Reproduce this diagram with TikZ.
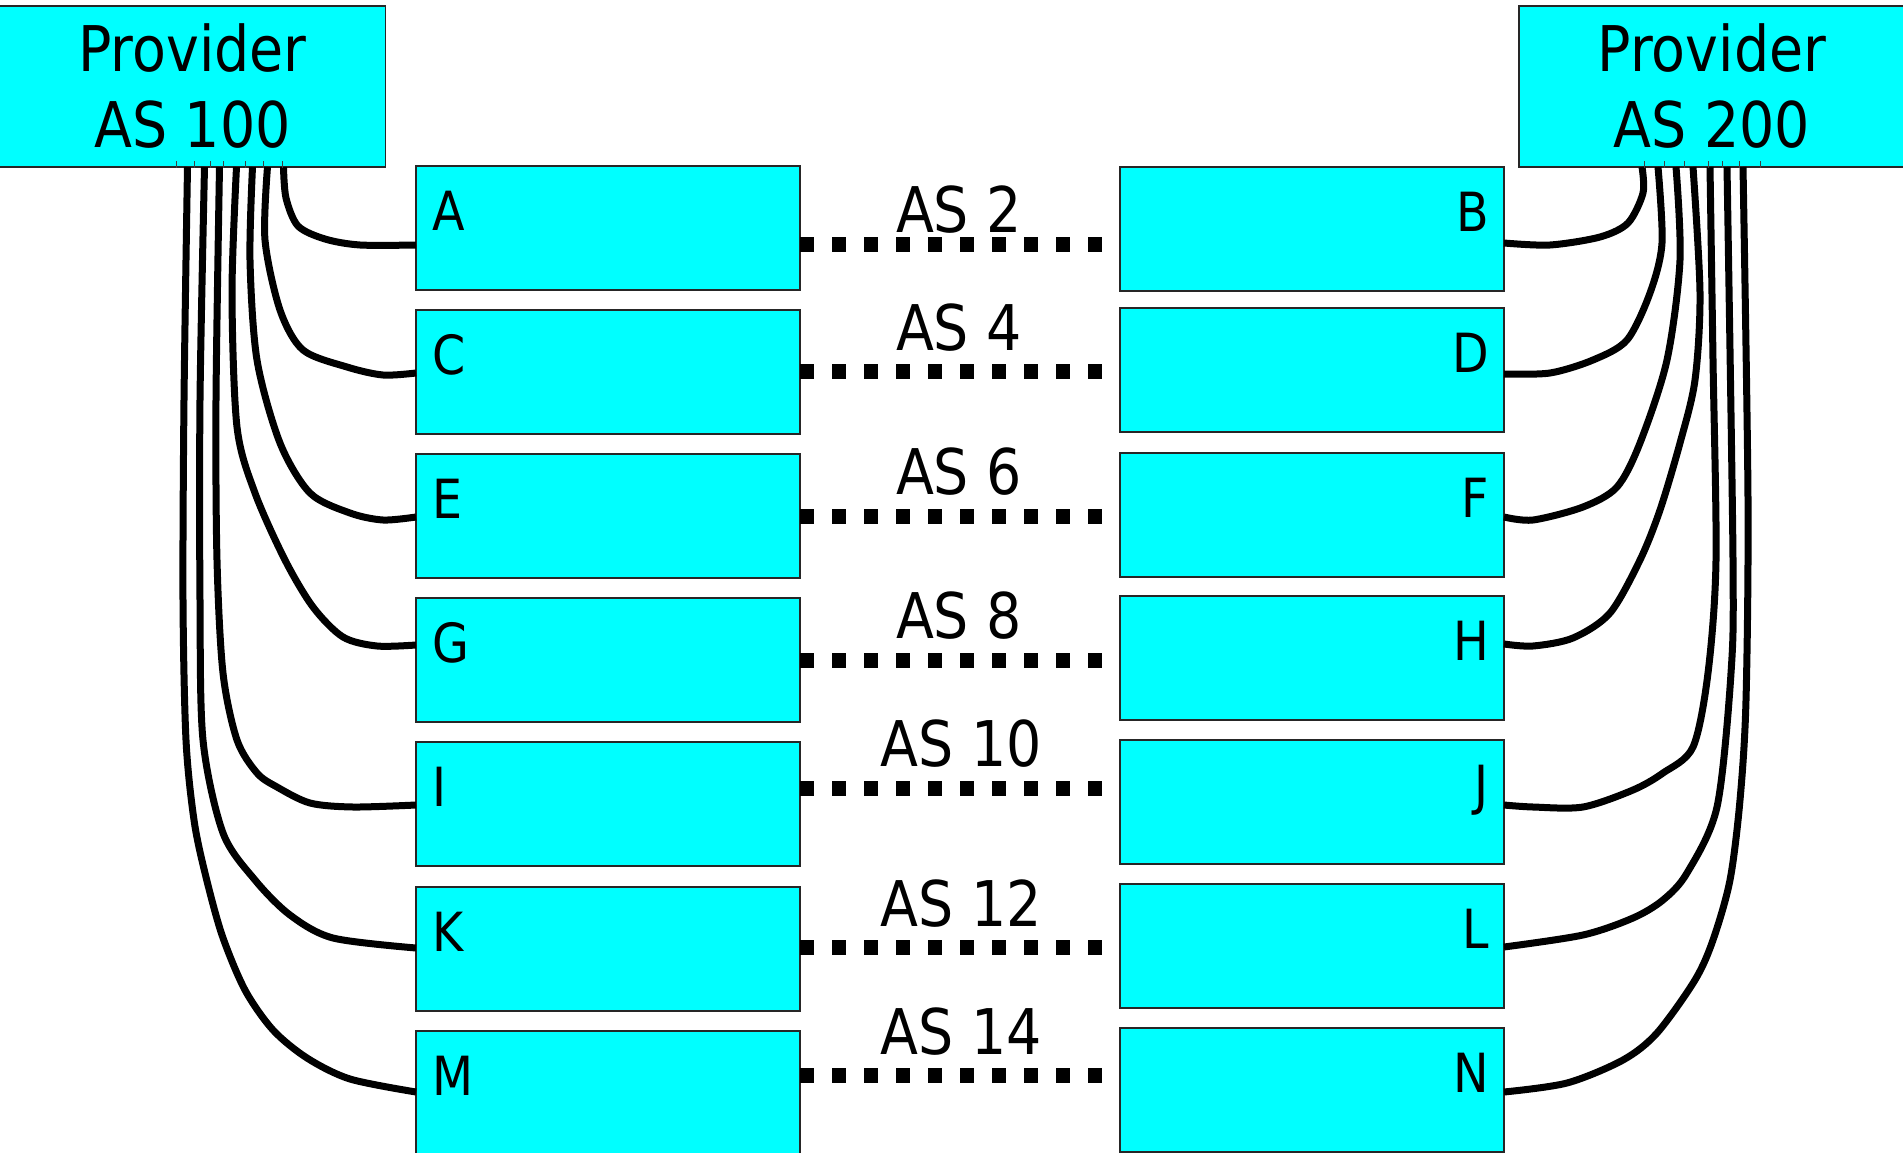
\documentclass[tikz,border=0pt]{standalone}
\usepackage{fontspec}
\setmainfont{DejaVu Sans}[FakeStretch=0.88]
\definecolor{aqua}{RGB}{0,255,255}
\begin{document}
\begin{tikzpicture}[x=1pt,y=-1pt,
  asbox/.style={draw=black!85, line width=1.8pt, fill=aqua, minimum width=384pt, minimum height=124pt, inner sep=0pt, outer sep=0pt},
  provbox/.style={draw=black!85, line width=1.8pt, fill=aqua, minimum width=386pt, minimum height=161pt, inner sep=0pt, outer sep=0pt, align=center, font=\fontsize{63}{76}\selectfont},
  letl/.style={anchor=base west, inner sep=0pt, font=\fontsize{54}{60}\selectfont},
  letr/.style={anchor=base east, inner sep=0pt, font=\fontsize{54}{60}\selectfont},
  aslabel/.style={anchor=base, inner sep=0pt, font=\fontsize{63}{70}\selectfont},
  wire/.style={line width=7pt, black, line join=round},
  dotline/.style={line width=15pt, black, dash pattern=on 13.5pt off 18.5pt},
  tick/.style={line width=0.8pt, black!75}]
\useasboundingbox (0,0) rectangle (1903,1153);

% provider boxes
\node[provbox] (P1) at (192.5,86.5) {Provider\\AS 100};
\node[provbox] (P2) at (1712,86.5) {Provider\\AS 200};

% customer boxes, left
\node[asbox] (A) at (608,228) {};
\node[asbox] (C) at (608,372) {};
\node[asbox] (E) at (608,516) {};
\node[asbox] (G) at (608,660) {};
\node[asbox] (I) at (608,804) {};
\node[asbox] (K) at (608,949) {};
\node[asbox] (M) at (608,1093) {};
% right
\node[asbox] (B) at (1312,229) {};
\node[asbox] (D) at (1312,370) {};
\node[asbox] (F) at (1312,515) {};
\node[asbox] (H) at (1312,658) {};
\node[asbox] (J) at (1312,802) {};
\node[asbox] (L) at (1312,946) {};
\node[asbox] (N) at (1312,1090) {};

% letters
\foreach \n in {A,C,E,G,I,K,M}{\node[letl] (t\n) at ([xshift=16pt,yshift=-2pt]\n.west) {\n};}
\foreach \n in {B,D,F,H,J,L,N}{\node[letr] (t\n) at ([xshift=-15pt,yshift=-2pt]\n.east) {\n};}

% AS labels
\node[aslabel] (l2) at (959,232) {AS 2};
\node[aslabel] (l4) at (959,350) {AS 4};
\node[aslabel] (l6) at (959,494) {AS 6};
\node[aslabel] (l8) at (959,638) {AS 8};
\node[aslabel] (l10) at (961,766) {AS 10};
\node[aslabel] (l12) at (961,926) {AS 12};
\node[aslabel] (l14) at (961,1054) {AS 14};

% dotted peerings
\coordinate (d1) at (0,244);
\coordinate (d2) at (0,371);
\coordinate (d3) at (0,516);
\coordinate (d4) at (0,660);
\coordinate (d5) at (0,788);
\coordinate (d6) at (0,947);
\coordinate (d7) at (0,1075);
\draw[dotline] (A.east |- d1) -- (B.west |- d1);
\draw[dotline] (C.east |- d2) -- (D.west |- d2);
\draw[dotline] (E.east |- d3) -- (F.west |- d3);
\draw[dotline] (G.east |- d4) -- (H.west |- d4);
\draw[dotline] (I.east |- d5) -- (J.west |- d5);
\draw[dotline] (K.east |- d6) -- (L.west |- d6);
\draw[dotline] (M.east |- d7) -- (N.west |- d7);

% left wires
\draw[wire] plot[smooth] coordinates {([xshift=284pt]P1.south west) (286,198) (298,226) (325,239) (360,245) ([yshift=-17pt]A.west)};
\draw[wire] plot[smooth] coordinates {([xshift=268pt]P1.south west) (265,240) (280,310) (303,350) (347,367) (383,375) ([yshift=-1pt]C.west)};
\draw[wire] plot[smooth] coordinates {([xshift=253pt]P1.south west) (250,260) (257,360) (280,443) (310,493) (350,513) (383,520) ([yshift=-1pt]E.west)};
\draw[wire] plot[smooth] coordinates {([xshift=237pt]P1.south west) (232,293) (237,427) (255,493) (285,560) (313,607) (343,637) (377,646) ([yshift=15pt]G.west)};
\draw[wire] plot[smooth] coordinates {([xshift=220pt]P1.south west) (216,400) (217,560) (223,673) (237,740) (257,773) (277,787) (310,803) (353,807) ([yshift=-1pt]I.west)};
\draw[wire] plot[smooth] coordinates {([xshift=205pt]P1.south west) (200,400) (200,600) (203,740) (223,833) (255,880) (290,915) (333,938) ([yshift=1pt]K.west)};
\draw[wire] plot[smooth] coordinates {([xshift=188pt]P1.south west) (184,400) (183,600) (186,740) (194,820) (205,873) (222,935) (245,990) (273,1030) (307,1058) (350,1079) ([yshift=1pt]M.west)};

% right wires
\draw[wire] plot[smooth] coordinates {([xshift=123pt]P2.south west) (1643,193) (1628,223) (1600,237) (1550,245) ([yshift=-14pt]B.east)};
\draw[wire] plot[smooth] coordinates {([xshift=139pt]P2.south west) (1662,243) (1650,293) (1627,340) (1593,360) (1550,373) ([yshift=-4pt]D.east)};
\draw[wire] plot[smooth] coordinates {([xshift=157pt]P2.south west) (1680,260) (1667,360) (1640,443) (1617,487) (1583,507) (1533,520) ([yshift=-2pt]F.east)};
\draw[wire] plot[smooth] coordinates {([xshift=174pt]P2.south west) (1700,293) (1695,380) (1680,443) (1660,510) (1640,560) (1610,613) (1573,638) (1533,646) ([yshift=14pt]H.east)};
\draw[wire] plot[smooth] coordinates {([xshift=191pt]P2.south west) (1713,360) (1716,560) (1708,673) (1693,747) (1663,773) (1633,790) (1583,807) (1533,807) ([yshift=-3pt]J.east)};
\draw[wire] plot[smooth] coordinates {([xshift=208pt]P2.south west) (1733,560) (1731,673) (1717,807) (1687,873) (1663,900) (1633,918) (1583,935) ([yshift=-1pt]L.east)};
\draw[wire] plot[smooth] coordinates {([xshift=224pt]P2.south west) (1748,500) (1746,700) (1740,800) (1730,880) (1713,940) (1695,980) (1657,1033) (1623,1060) (1567,1083) ([yshift=-2pt]N.east)};

% ticks at provider bottoms
\foreach \x in {177,195,211,224,246,264,283}{\draw[tick] ([xshift=\x pt,yshift=6pt]P1.south west) -- ++(0,7);}
\foreach \x in {125,145,165,189,203,220,241}{\draw[tick] ([xshift=\x pt,yshift=6pt]P2.south west) -- ++(0,7);}
\end{tikzpicture}
\end{document}
